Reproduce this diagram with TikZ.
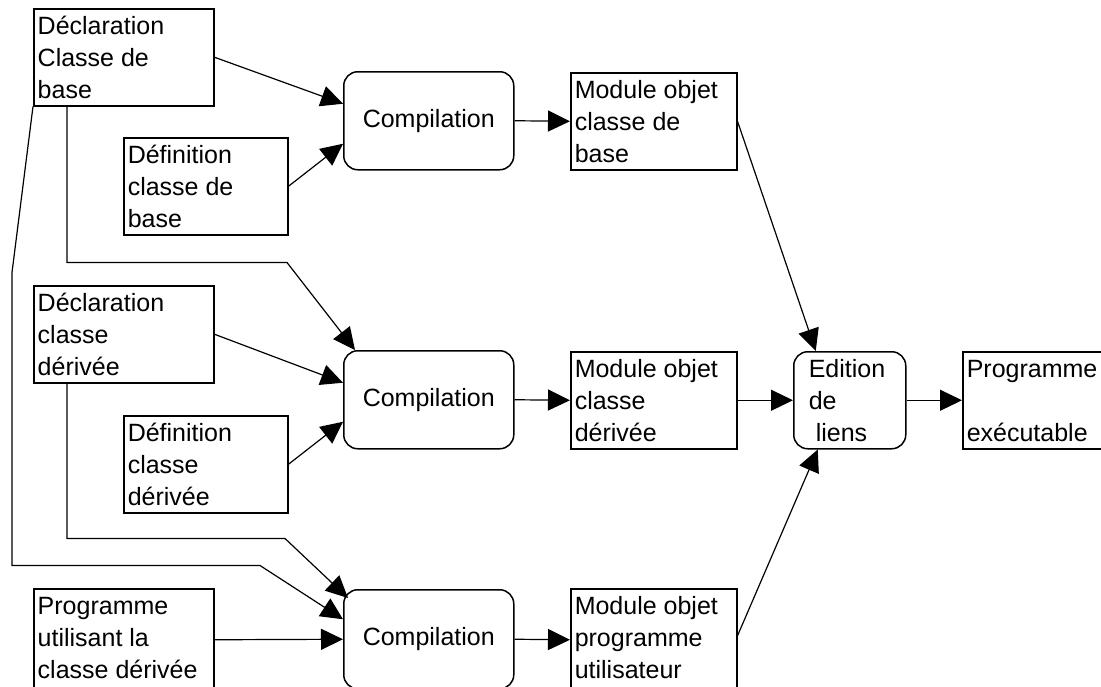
\documentclass[tikz,border=0pt]{standalone}
\usepackage{fontspec}
\setmainfont{Liberation Sans}
\usetikzlibrary{arrows.meta}

% top-aligned text block of fixed height for the boxes
\newcommand{\boxtxt}[3][97pt]{\begin{minipage}[t][#1][t]{#2}\raggedright\rule{0pt}{26pt}#3\end{minipage}}

\begin{document}
\begin{tikzpicture}[
  x=1pt, y=-1pt,
  font=\fontsize{25}{32}\selectfont,
  box/.style={draw, line width=1.5pt, anchor=north west, inner xsep=4pt, inner ysep=0pt},
  proc/.style={draw, line width=1.5pt, rounded corners=14pt, anchor=north west,
               minimum width=170pt, minimum height=98pt, inner sep=0pt},
  conn/.style={line width=1.2pt, -{Triangle[length=22pt,width=21pt]}}
]
\useasboundingbox (0,0) rectangle (1101,686);
\fill[white] (0,0) rectangle (1101,686);
\clip (0,0) rectangle (1101,686);

% sources
\node[box] (declbase) at (33,8)    {\boxtxt{172pt}{Déclaration\\Classe de\\base}};
\node[box] (defbase)  at (123,137) {\boxtxt{156pt}{Définition\\classe de\\base}};
\node[box] (declder)  at (33,285)  {\boxtxt{172pt}{Déclaration\\classe\\dérivée}};
\node[box] (defder)   at (123,415) {\boxtxt{156pt}{Définition\\classe\\dérivée}};
\node[box] (proguse)  at (33,588)  {\boxtxt[102pt]{172pt}{Programme\\utilisant la\\classe dérivée}};

% compilation steps
\node[proc] (comp1) at (343,71)  {Compilation};
\node[proc] (comp2) at (343,350) {Compilation};
\node[proc, minimum height=99pt] (comp3) at (343,589) {Compilation};

% object modules
\node[box] (mod1) at (570,72)  {\boxtxt{158pt}{Module objet\\classe de\\base}};
\node[box] (mod2) at (570,351) {\boxtxt{158pt}{Module objet\\classe\\dérivée}};
\node[box] (mod3) at (570,588) {\boxtxt[102pt]{158pt}{Module objet\\programme\\utilisateur}};

% link edition and result
\node[box, rounded corners=14pt, inner xsep=15pt] (edit) at (793,351)
  {\boxtxt{82pt}{Edition\\de\\\hspace*{7pt}liens}};
\node[box] (prog) at (962,351) {\boxtxt{142pt}{Programme\\[32pt]exécutable}};

% first compilation
\draw[conn] (declbase.east) -- ([yshift=17pt]comp1.west);
\draw[conn] (defbase.east) -- ([yshift=-23pt]comp1.west);
\draw[conn] (comp1.east) -- (mod1.west);

% second compilation
\draw[conn] ([xshift=34pt]declbase.south west) -- ++(0,156) -- ++(220,0)
  -- ([xshift=12pt]comp2.north west);
\draw[conn] (declder.east) -- ([yshift=17pt]comp2.west);
\draw[conn] (defder.east) -- ([yshift=-22pt]comp2.west);
\draw[conn] (comp2.east) -- (mod2.west);

% third compilation
\draw[conn] (declbase.south west) -- ++(-21,166) -- ++(0,293) -- ++(248,0)
  -- ([yshift=20pt]comp3.west);
\draw[conn] ([xshift=34pt]declder.south west) -- ++(0,155) -- ++(218,0)
  -- ([xshift=5pt,yshift=-9pt]comp3.north west);
\draw[conn] (proguse.east) -- (comp3.west);
\draw[conn] (comp3.east) -- (mod3.west);

% link edition
\draw[conn] (mod1.east) -- ([xshift=-34pt]edit.north);
\draw[conn] (mod2.east) -- (edit.west);
\draw[conn] ([yshift=4pt]mod3.east) -- ([xshift=-32pt]edit.south);
\draw[conn] (edit.east) -- (prog.west);
\end{tikzpicture}
\end{document}
